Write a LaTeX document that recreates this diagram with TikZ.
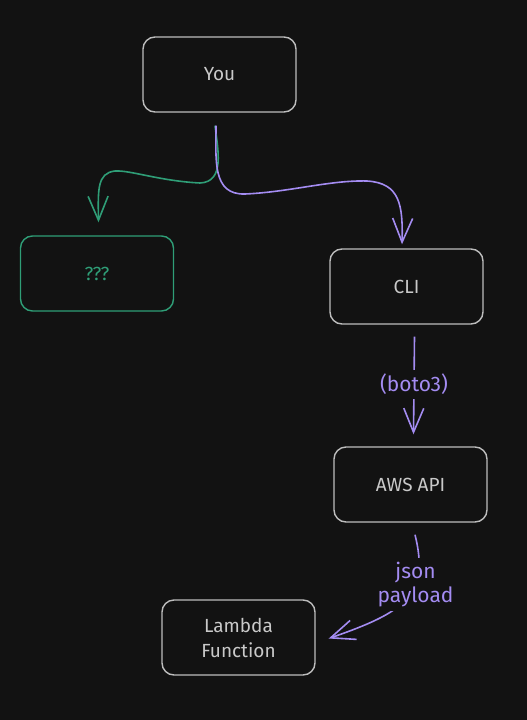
\documentclass[tikz,border=0pt]{standalone}
\usepackage{fontspec}
\setmainfont{Fira Sans}
\usetikzlibrary{arrows.meta,calc}
\definecolor{bg}{HTML}{121212}
\definecolor{boxgrey}{HTML}{BDBDBD}
\definecolor{textgrey}{HTML}{C9C9C9}
\definecolor{flowgreen}{HTML}{2F9E77}
\definecolor{flowpurple}{HTML}{A48CF2}
\tikzset{
	box/.style={draw=boxgrey, line width=1.4pt, rounded corners=12pt, minimum width=153pt, minimum height=75pt, text=textgrey, align=center, font=\fontsize{19}{25}\selectfont},
	greenbox/.style={box, draw=flowgreen, text=flowgreen},
	barb/.style={-{Straight Barb[length=24pt,width=20pt,line width=1.6pt]}},
	greenline/.style={draw=flowgreen, line width=1.6pt, barb},
	purpleline/.style={draw=flowpurple, line width=1.6pt, barb},
	edgelabel/.style={fill=bg, text=flowpurple, align=center, inner sep=4pt, font=\fontsize{21}{24}\selectfont}
}
\begin{document}
\begin{tikzpicture}[x=1pt, y=-1pt]
				%%%%% START %%%%%
				\fill[bg] (0, 0) rectangle (527, 720);
				\useasboundingbox (0, 0) rectangle (527, 720);
				
				\node[box] (you) at (219.5, 74.5) {You};
				\node[greenbox] (unknown) at (97, 273.5) {???};
				\node[box] (cli) at (406.5, 286.5) {CLI};
				\node[box] (awsapi) at (410.5, 484.5) {AWS API};
				\node[box] (lambda) at (238.5, 637.5) {Lambda\\Function};
				
				% the two branches out of You
				\draw[greenline] ([xshift=-4.5pt, yshift=-13pt]you.south) .. controls (218, 150) and (225, 182) .. (200, 183)
					.. controls (160, 181) and (130, 170) .. (115, 171)
					.. controls (97, 173) and (98, 190) .. ([xshift=1.5pt, yshift=13pt]unknown.north);
				\draw[purpleline] ([xshift=-3.5pt, yshift=-13pt]you.south) .. controls (216, 160) and (212, 195) .. (245, 194)
					.. controls (290, 192) and (330, 180) .. (367, 181)
					.. controls (400, 183) and (403, 205) .. ([xshift=-4.5pt, yshift=4pt]cli.north);
				
				% CLI to AWS API
				\draw[purpleline] ([xshift=8pt, yshift=-12pt]cli.south) -- ([xshift=3pt, yshift=12pt]awsapi.north)
					node[edgelabel, pos=0.49] (boto) {(boto3)};
				
				% AWS API to Lambda
				\draw[purpleline] ([xshift=4.5pt, yshift=-12pt]awsapi.south) .. controls (430, 595) and (405, 612) .. ([xshift=13pt, yshift=-1pt]lambda.east)
					node[edgelabel, pos=0.35] (payload) {json\\payload};
				%%%%% END %%%%%
\end{tikzpicture}
\end{document}
